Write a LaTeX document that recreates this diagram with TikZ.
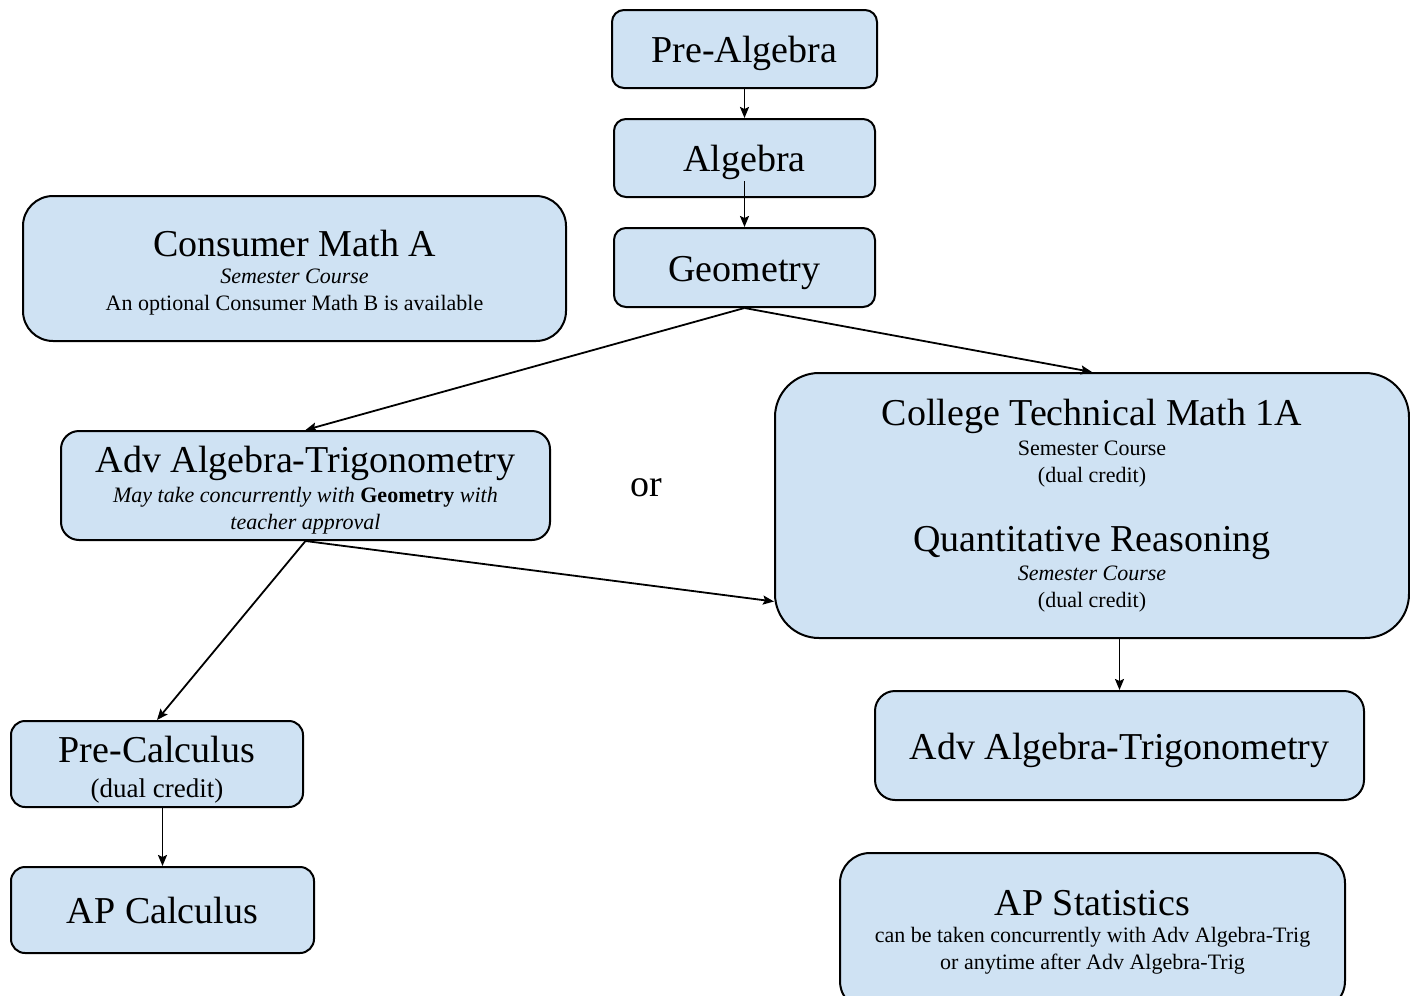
\documentclass[tikz,border=0pt]{standalone}
\usepackage{fontspec}
\setmainfont{Liberation Serif}
\usepackage{tikz}
\usetikzlibrary{arrows.meta,shapes,positioning}
\usepackage{xcolor}
\definecolor{crsblue}{RGB}{207,226,243}
\newcommand{\coursefont}{\fontsize{19}{13.5}\selectfont}
\newcommand{\notefont}{\fontsize{11}{13.5}\selectfont}
\newcommand{\crsstrut}[1]{\rule{0pt}{#1}}
\tikzstyle{course} = [rectangle, rounded corners=6pt, draw=black, line width=1pt, fill=crsblue, align=center, inner sep=0pt, font=\notefont]
\tikzstyle{arrow} = [line width=0.9pt, -{Stealth[length=5.5pt, width=4.5pt, inset=1pt]}]
\begin{document}
\begin{tikzpicture}[x=0.5pt, y=-0.5pt]
\useasboundingbox (0,0) rectangle (1410,996);
% Core sequence
\node (prealg) [course, minimum width=132.5pt, minimum height=39pt, text height=18pt] at (744.5,49) {\coursefont Pre-Algebra};
\node (algebra) [course, minimum width=130.5pt, minimum height=39pt, text height=18pt, below=14.5pt of prealg] {\coursefont Algebra};
\node (geometry) [course, minimum width=130.5pt, minimum height=39.5pt, text height=18.3pt, below=14.5pt of algebra] {\coursefont Geometry};

% Elective
\node (consumer) [course, rounded corners=15pt, minimum width=271.5pt, minimum height=72.5pt] at (294.5,268.5) {{\coursefont\crsstrut{17pt}Consumer Math A}\\ \textit{Semester Course}\\ An optional Consumer Math B is available};

% Upper level
\node (aatleft) [course, rounded corners=9pt, minimum width=244.5pt, minimum height=54.5pt] at (305.5,485.5) {{\coursefont\crsstrut{17.4pt}Adv Algebra-Trigonometry}\\[1.5pt] \textit{May take concurrently with \textup{\textbf{Geometry}} with}\\ \textit{teacher approval}};
\node (or) [font=\coursefont] at (646,488) {or};
\node (college) [course, rounded corners=22pt, minimum width=317pt, minimum height=132.5pt] at (1092,505.5) {{\coursefont College Technical Math 1A}\\[1.5pt] Semester Course\\ (dual credit)\\[18.5pt] {\coursefont Quantitative Reasoning}\\[1pt] \textit{Semester Course}\\ (dual credit)};

% Calculus track
\node (precalc) [course, rounded corners=7pt, minimum width=146pt, minimum height=43pt] at (157,764) {{\coursefont\crsstrut{18.6pt}Pre-Calculus}\\[4pt] {\fontsize{13.5}{13.5}\selectfont (dual credit)}};
\node (apcalc) [course, rounded corners=7pt, minimum width=151.5pt, minimum height=43pt] at (162.5,910) {\coursefont AP Calculus};

% Right track
\node (aatright) [course, rounded corners=10pt, minimum width=244.5pt, minimum height=54.5pt, text height=18.5pt] at (1119.5,745.5) {\coursefont Adv Algebra-Trigonometry};
\node (apstats) [course, rounded corners=15pt, minimum width=252.5pt, minimum height=79pt] at (1092.5,932) {{\coursefont AP Statistics}\\ can be taken concurrently with Adv Algebra-Trig\\ or anytime after Adv Algebra-Trig};

% Arrows
\draw[arrow] (prealg) -- (algebra);
\draw[arrow] ([yshift=-11.5pt]algebra.center) -- (geometry);
\draw[arrow] (geometry.south) -- (aatleft.north);
\draw[arrow] (geometry.south) -- (college.north);
\draw[arrow] (aatleft.south) -- (precalc.north);
\draw[arrow] (aatleft.south) -- ([yshift=-48pt]college.west);
\draw[arrow] (aatright.north |- college.south) -- (aatright.north);
\draw[arrow] (apcalc.north |- precalc.south) -- (apcalc.north);
\end{tikzpicture}
\end{document}
